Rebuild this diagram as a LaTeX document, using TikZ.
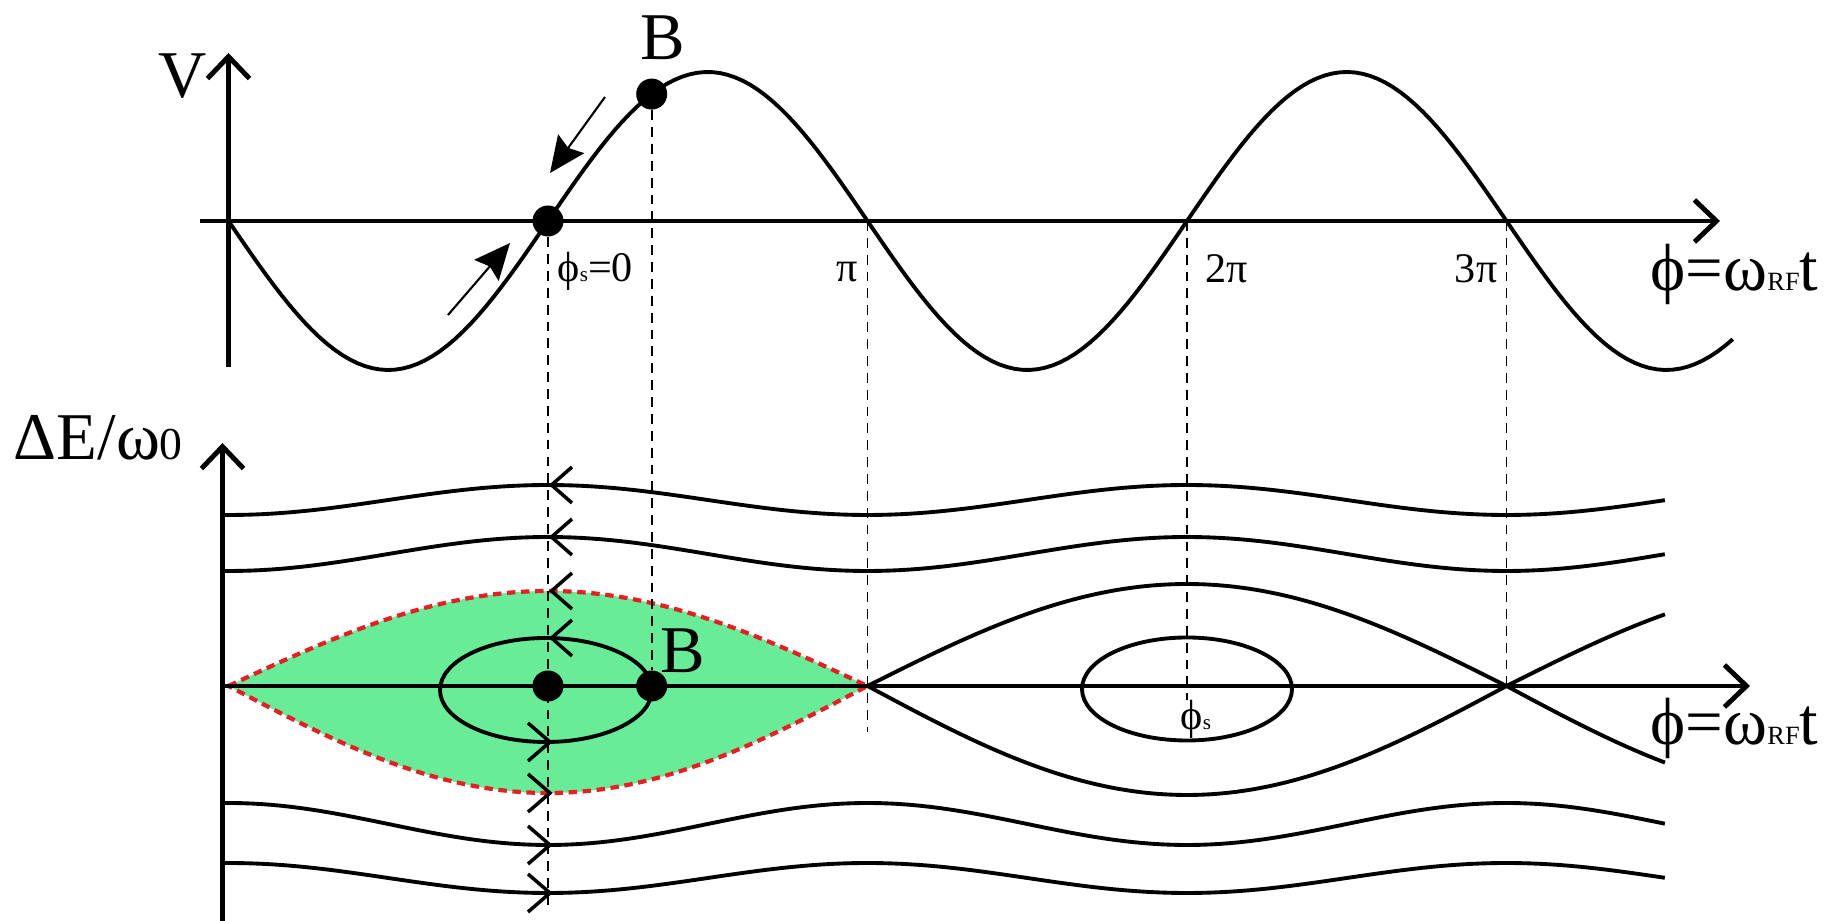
\documentclass[tikz,border=0pt]{standalone}
\usepackage{fontspec}
\setmainfont{Liberation Serif}
\usetikzlibrary{arrows.meta}

\definecolor{bucketgreen}{RGB}{104,236,152}
\definecolor{sepred}{RGB}{232,30,36}

\newcommand{\lows}[1]{{\fontsize{6}{6}\selectfont #1}}
\newcommand{\lowrf}{{\fontsize{7.5}{8}\selectfont RF}}

\begin{document}
\begin{tikzpicture}[
    >={Straight Barb[length=2.2mm,width=4.2mm]},
    axis/.style  = {->, line width=1.4pt},
    curve/.style = {line width=1.1pt},
    guide/.style = {line width=0.5pt, dash pattern=on 2.8pt off 2pt},
    sep/.style   = {draw=sepred, line width=1.2pt, dash pattern=on 2.4pt off 1.6pt},
    dot/.style   = {circle, fill=black, minimum size=3.1mm, inner sep=0pt},
    chev/.style  = {line width=1pt},
    push/.style  = {-{Stealth[length=3.6mm,width=3.2mm,inset=0.5mm]}, line width=0.6pt},
    big/.style   = {font=\fontsize{19}{22}\selectfont, inner sep=0pt},
    tick/.style  = {font=\fontsize{12}{14}\selectfont, inner sep=0pt}
  ]
  \useasboundingbox (0,0) rectangle (18.47,9.21);

  % --- bucket (left separatrix, filled) ---
  \draw[sep, fill=bucketgreen]
    plot[domain=2.285:8.675, samples=120] (\x,{2.35+0.95*cos((\x-5.48)*28.169)})
    -- plot[domain=8.675:2.285, samples=120] (\x,{2.35-1.07*cos((\x-5.48)*28.169)})
    -- cycle;

  % --- RF voltage (top) ---
  \coordinate (Vfoot) at (2.285,5.54);
  \coordinate (Vtip)  at (2.285,8.68);
  \coordinate (Hfoot) at (2.00,7.00);
  \coordinate (Htip)  at (17.20,7.00);
  \draw[axis] (Vfoot) -- (Vtip);
  \draw[axis] (Hfoot) -- (Htip);
  \draw[curve] plot[domain=2.285:17.33, samples=200] (\x,{7+1.49*sin((\x-5.48)*56.338)});

  \node[dot] (S)  at (5.48,7.00) {};
  \node[dot] (B)  at (6.517,{7+1.49*sin((6.517-5.48)*56.338)}) {};
  \node[dot] (Sl) at (5.48,2.35) {};
  \node[dot] (Bl) at (6.517,2.35) {};

  % --- phase space (bottom) ---
  \coordinate (Efoot) at (2.225,0.00);
  \coordinate (Etip)  at (2.225,4.78);
  \coordinate (Pfoot) at (2.225,2.35);
  \coordinate (Ptip)  at (17.50,2.35);
  \draw[axis] (Efoot) -- (Etip);
  \draw[axis] (Pfoot) -- (Ptip);

  \foreach \yc/\amp in {4.21/0.15, 3.67/0.17, 0.97/-0.21, 0.43/-0.15}
    \draw[curve] plot[domain=2.225:16.65, samples=150] (\x,{\yc+\amp*cos((\x-5.48)*56.338)});

  \draw[curve] plot[domain=8.675:15.065, samples=100] (\x,{2.35+1.02*abs(cos((\x-5.48)*28.169))})
    -- plot[domain=15.065:16.65, samples=30] (\x,{2.35+1.02*abs(cos((\x-5.48)*28.169))});
  \draw[curve] plot[domain=8.675:15.065, samples=100] (\x,{2.35-1.09*abs(cos((\x-5.48)*28.169))})
    -- plot[domain=15.065:16.65, samples=30] (\x,{2.35-1.09*abs(cos((\x-5.48)*28.169))});

  \draw[curve] (5.46,2.31) ellipse [x radius=1.06, y radius=0.52];
  \draw[curve] (11.87,2.32) ellipse [x radius=1.05, y radius=0.515];

  % --- guide lines ---
  \coordinate (Sfoot)  at (5.48,0.11);
  \coordinate (Pitop)  at (8.675,7.00);
  \coordinate (Pifoot) at (8.675,1.89);
  \coordinate (Twotop) at (11.87,7.00);
  \coordinate (Twofoot) at (11.87,2.21);
  \coordinate (Thrtop) at (15.065,7.00);
  \coordinate (Thrfoot) at (15.065,2.35);
  \draw[guide] (S) -- (Sfoot);
  \draw[guide] (B) -- (Bl);
  \draw[guide] (Pitop) -- (Pifoot);
  \draw[guide] (Twotop) -- (Twofoot);
  \draw[guide] (Thrtop) -- (Thrfoot);

  % --- direction chevrons at phi_s ---
  \foreach \y in {4.36,3.84,3.30,2.83}
    \draw[chev] (5.72,{\y+0.18}) -- (5.515,\y) -- (5.72,{\y-0.18});
  \foreach \y in {1.79,1.28,0.76,0.28}
    \draw[chev] (5.28,{\y+0.19}) -- (5.50,\y) -- (5.28,{\y-0.19});

  % --- motion arrows on the sine ---
  \coordinate (A1s) at (4.48,6.06);
  \coordinate (A1e) at (5.10,6.78);
  \coordinate (A2s) at (6.05,8.24);
  \coordinate (A2e) at (5.50,7.48);
  \draw[push] (A1s) -- (A1e);
  \draw[push] (A2s) -- (A2e);

  % --- labels ---
  \node[big, anchor=base west] (Vlab) at (1.58,8.23) {V};
  \node[big, anchor=base west] (Blab) at (6.40,8.61) {B};
  \node[big, anchor=base west] (Bllab) at (6.60,2.48) {B};
  \node[big, anchor=base west] (Elab) at (0.13,4.61) {ΔE/ω{\fontsize{13}{14}\selectfont 0}};
  \node[big, anchor=base west] (Xtop) at (16.50,6.30) {ϕ=ω\lowrf t};
  \node[big, anchor=base west] (Xbot) at (16.50,1.76) {ϕ=ω\lowrf t};

  \node[tick, anchor=base west] (Slab) at (5.57,6.39) {ϕ\lows{s}=0};
  \node[tick, anchor=base east] (Pilab) at (8.58,6.39) {π};
  \node[tick, anchor=base west] (Twolab) at (12.05,6.38) {2π};
  \node[tick, anchor=base east] (Thrlab) at (14.98,6.38) {3π};
  \node[tick, anchor=base west] (Sin) at (11.80,1.91) {ϕ\lows{s}};

\end{tikzpicture}
\end{document}
